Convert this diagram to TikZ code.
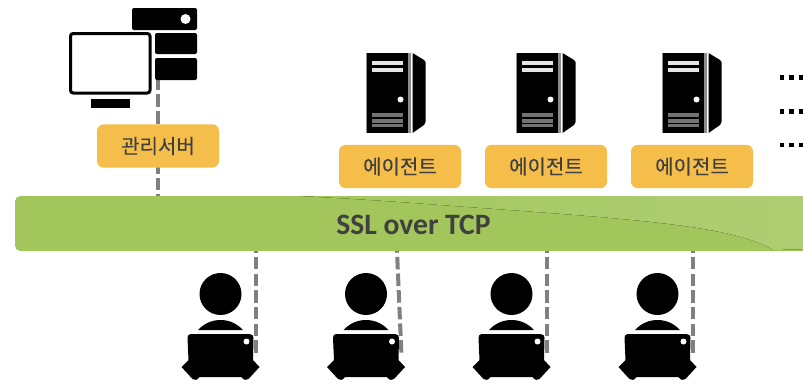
\documentclass[tikz,border=0pt]{standalone}
\usepackage{fontspec}
\setmainfont[FakeBold=0.25]{Noto Sans CJK KR}
\newfontfamily\latinbar{Carlito}
\definecolor{lbl}{HTML}{F5BE4B}
\definecolor{barA}{HTML}{A2C65B}
\definecolor{barB}{HTML}{AFCE73}
\definecolor{txt}{HTML}{404040}
\definecolor{lnk}{HTML}{808080}
\tikzset{
  tag/.style={fill=lbl,rounded corners=5pt,minimum width=91.5pt,minimum height=32.5pt,inner sep=0pt,text=txt,font=\fontsize{15pt}{18pt}\selectfont},
  link/.style={draw=lnk,line width=3pt,dash pattern=on 9.4pt off 3.1pt,dash phase=8.1pt},
  blk/.style={fill=black,rounded corners=1.5pt}
}
\newcommand{\towericon}[1]{%
  \begin{scope}[shift={(#1,0)}]
    \fill[black!45] (-1,53) rectangle (46,133);
    \fill[black] (0,53) rectangle (40.5,133);
    \fill[white] (44,53) rectangle (46,133);
    \fill[black] (45.5,53) -- (57,60) -- (58.5,62) -- (58.5,122) -- (57,125) -- (45.5,133) -- cycle;
    \fill[white!90!black] (5,61) rectangle (36,65);
    \fill[white!90!black] (5,68) rectangle (36,72);
    \fill[white] (33.5,99.5) circle (3);
    \fill[white!45!black] (5,113) rectangle (36,117);
    \fill[white!45!black] (5,119) rectangle (36,122.5);
    \fill[white!45!black] (5,124) rectangle (36,127);
  \end{scope}}
\newcommand{\personicon}[1]{%
  \begin{scope}[shift={(#1,0)}]
    \fill[black] (33,294) circle (21);
    \fill[black] (10.5,330) .. controls (17,323) and (25,320) .. (33,320) .. controls (41,320) and (49,323) .. (55.5,330) -- cycle;
    \fill[black] (3,334) -- (62,334) .. controls (65,334) and (66,336) .. (66,338) -- (65.5,360)
      -- (72,367) -- (61,379) .. controls (59,381) and (56,380) .. (54,377) -- (12,377)
      .. controls (10,380) and (7,381) .. (5,379) -- (-6,367) -- (1,360) -- (0,338)
      .. controls (0,336) and (1,334) .. (3,334) -- cycle;
    \fill[white] (59,341.5) circle (3);
  \end{scope}}
\begin{document}
\begin{tikzpicture}[x=0.75pt,y=-0.75pt]
\useasboundingbox (0,0) rectangle (803,383);
\clip (0,0) rectangle (803,383);
% bar
\node[anchor=north west,minimum width=591pt,minimum height=41.25pt,inner sep=0pt] (bar) at (15,196) {};
\begin{scope}
  \clip[rounded corners=4pt] (15,196) -- (15,251) -- (830,251) -- (830,196) -- cycle;
  \fill[barA] (0,190) rectangle (810,255);
  \fill[left color=barA,right color=barB,middle color=barB!55!barA] (300,196) .. controls (340,198) and (370,200) .. (400,202) .. controls (480,208) and (540,212) .. (600,217) .. controls (680,224) and (745,232) .. (773,250) -- (810,249) -- (810,196) -- cycle;
\end{scope}
\node[text=txt,font=\latinbar\bfseries\fontsize{22.2pt}{25pt}\selectfont] (bartext) at (413.5,224.5) {SSL over TCP};
% connector end points
\coordinate (mtop) at (157.5,78.6);
\coordinate (mbot) at (157.5,196);
\coordinate (u1a) at (255.5,251); \coordinate (u1b) at (255.5,352.7);
\coordinate (u2a) at (397,251); \coordinate (u2b) at (401.5,356);
\coordinate (u3a) at (547,251); \coordinate (u3b) at (547,352.7);
\coordinate (u4a) at (692.5,251); \coordinate (u4b) at (692.5,352.7);
\draw[link,dash phase=8.25pt] (mbot) -- (mtop);
\draw[link] (u1a) -- (u1b);
\draw[link] (u2a) -- (u2b);
\draw[link] (u3a) -- (u3b);
\draw[link] (u4a) -- (u4b);
% manager icons
\fill[blk] (132,8) rectangle (197,30);
\fill[white] (185.5,19) circle (5);
\fill[blk] (155,33) rectangle (197,54);
\fill[blk] (155,58) rectangle (197,80);
\draw[black,line width=2.25pt,fill=white,rounded corners=2pt] (70.5,33.5) rectangle (150,93);
\fill[black] (91,99) rectangle (130,108);
% tags
\node[tag] (t0) at (158,146) {관리서버};
\node[tag] (t1) at (400,166.5) {에이전트};
\node[tag] (t2) at (546,166.5) {에이전트};
\node[tag] (t3) at (692,166.5) {에이전트};
% towers
\towericon{367}
\towericon{517}
\towericon{663}
% people
\personicon{187.5}
\personicon{333}
\personicon{478.5}
\personicon{624.5}
% dots
\foreach \yy in {77.5,111.5,145}{
  \foreach \xx in {782,791.5,801}{
    \fill[black] (\xx-2.3,\yy-2.3) rectangle (\xx+2.3,\yy+2.3);
  }}
\end{tikzpicture}
\end{document}
